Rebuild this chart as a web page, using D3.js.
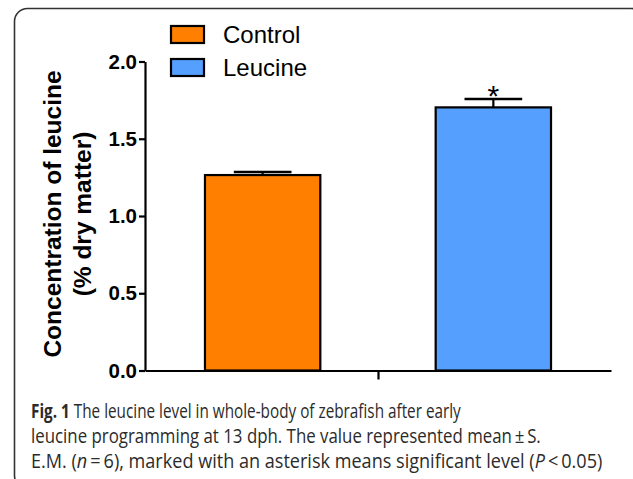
<!DOCTYPE html>
<html lang="en">
	<head>
		<meta charset="utf-8">
		<title>Leucine level in zebrafish</title>
		<script src="https://d3js.org/d3.v7.min.js"></script>
		<style type="text/css">
			body { margin: 0; background: #fff; }
		</style>
	</head>
	<body>
		<script type="text/javascript">

			//Data
			var groups = ["Control", "Leucine"];
			var means = [1.265, 1.703];
			var sems = [0.02, 0.054];
			var signif = ["", "*"];
			var colors = ["#FF8000", "#559FFF"];
			var yTicks = [0, 0.5, 1.0, 1.5, 2.0];
			var yTitle = ["Concentration of leucine", "(% dry matter)"];
			var caption = [
				[["Fig. 1", true], [" The leucine level in whole-body of zebrafish after early", false]],
				[["leucine programming at 13 dph. The value represented mean\u2009\u00b1\u2009S.", false]],
				[["E.M. (", false], ["n", "i"], ["\u2009=\u20096), marked with an asterisk means significant level (", false], ["P", "i"], ["\u2009<\u20090.05)", false]]
			];

			//Width and height
			var w = 633;
			var h = 479;

			var svg = d3.select("body")
						.append("svg")
						.attr("width", w)
						.attr("height", h);

			//Rounded frame
			svg.append("rect")
				.attr("x", 14.5)
				.attr("y", 8.5)
				.attr("width", 630)
				.attr("height", 480)
				.attr("rx", 13)
				.attr("fill", "none")
				.attr("stroke", "#333")
				.attr("stroke-width", 1.6);

			//Scales
			var y = d3.scaleLinear().domain([0, 2]).range([370.5, 61.5]);
			var x = d3.scaleBand().domain(groups).range([145, 611])
						.paddingInner(0.5).paddingOuter(0.26);
			var xMid = d3.scaleLinear().domain([0, 1]).range([145, 611]);

			//Bars
			svg.selectAll("rect.bar")
				.data(groups)
				.enter()
				.append("rect")
				.attr("class", "bar")
				.attr("x", function(d) { return x(d); })
				.attr("y", function(d, i) { return y(means[i]); })
				.attr("width", x.bandwidth())
				.attr("height", function(d, i) { return y(0) - y(means[i]); })
				.attr("fill", function(d, i) { return colors[i]; })
				.attr("stroke", "#000")
				.attr("stroke-width", 2.2);

			//Error bars (upper only)
			var eb = svg.selectAll("g.err")
				.data(groups)
				.enter()
				.append("g")
				.attr("class", "err");
			eb.append("line")
				.attr("x1", function(d) { return x(d) + x.bandwidth() / 2; })
				.attr("x2", function(d) { return x(d) + x.bandwidth() / 2; })
				.attr("y1", function(d, i) { return y(means[i]); })
				.attr("y2", function(d, i) { return y(means[i] + sems[i]); })
				.attr("stroke", "#000")
				.attr("stroke-width", 2.2);
			eb.append("line")
				.attr("x1", function(d) { return x(d) + x.bandwidth() / 4; })
				.attr("x2", function(d) { return x(d) + x.bandwidth() * 3 / 4; })
				.attr("y1", function(d, i) { return y(means[i] + sems[i]); })
				.attr("y2", function(d, i) { return y(means[i] + sems[i]); })
				.attr("stroke", "#000")
				.attr("stroke-width", 2.6);
			eb.append("text")
				.attr("x", function(d) { return x(d) + x.bandwidth() / 2; })
				.attr("y", function(d, i) { return y(means[i] + sems[i]) + 7; })
				.attr("text-anchor", "middle")
				.attr("font-family", "'Liberation Sans', Arial, sans-serif")
				.attr("font-size", 30)
				.text(function(d, i) { return signif[i]; });

			//Axes
			var yAxis = svg.append("g")
				.attr("transform", "translate(145,0)")
				.call(d3.axisLeft(y).tickValues(yTicks).tickFormat(d3.format(".1f"))
					.tickSize(6).tickSizeOuter(0).tickPadding(2));
			yAxis.selectAll("path, line").attr("stroke", "#000").attr("stroke-width", 2.2);
			yAxis.selectAll("text")
				.attr("font-family", "'Liberation Sans', Arial, sans-serif")
				.attr("font-weight", "bold")
				.attr("font-size", 20.5)
				.attr("fill", "#000");

			var xAxis = svg.append("g")
				.attr("transform", "translate(0," + y(0) + ")")
				.call(d3.axisBottom(xMid).tickValues([0.5]).tickFormat("")
					.tickSize(9).tickSizeOuter(0));
			xAxis.selectAll("path, line").attr("stroke", "#000").attr("stroke-width", 2.2);

			//Y title
			svg.append("text")
				.attr("transform", "translate(61,214) rotate(-90)")
				.attr("text-anchor", "middle")
				.attr("font-family", "'Liberation Sans', Arial, sans-serif")
				.attr("font-weight", "bold")
				.attr("font-size", 24.5)
				.selectAll("tspan")
				.data(yTitle)
				.enter()
				.append("tspan")
				.attr("x", 0)
				.attr("dy", function(d, i) { return i ? 30 : 0; })
				.text(function(d) { return d; });

			//Legend
			var leg = svg.selectAll("g.leg")
				.data(groups)
				.enter()
				.append("g")
				.attr("class", "leg")
				.attr("transform", function(d, i) { return "translate(171," + (26 + i * 33) + ")"; });
			leg.append("rect")
				.attr("width", 33)
				.attr("height", 17)
				.attr("fill", function(d, i) { return colors[i]; })
				.attr("stroke", "#000")
				.attr("stroke-width", 2.2);
			leg.append("text")
				.attr("x", 52)
				.attr("y", 17)
				.attr("font-family", "'Liberation Sans', Arial, sans-serif")
				.attr("font-size", 24)
				.attr("fill", "#000")
				.text(function(d) { return d; });

			//Caption, each line squeezed horizontally to the width it has in the figure
			var capEnds = [461, 541, 603];
			svg.selectAll("text.cap")
				.data(caption)
				.enter()
				.append("text")
				.attr("class", "cap")
				.attr("font-family", "'Open Sans', sans-serif")
				.attr("font-size", 20)
				.attr("fill", "#2b2b2b")
				.each(function(d, i) {
					var t = d3.select(this);
					d.forEach(function(p) {
						t.append("tspan")
							.attr("font-weight", p[1] === true ? "bold" : "normal")
							.attr("font-style", p[1] === "i" ? "italic" : "normal")
							.text(p[0]);
					});
					var sx = (capEnds[i] - 31) / this.getComputedTextLength();
					t.attr("transform", "translate(31," + (418 + i * 25) + ") scale(" + sx + ",1)");
				});
		</script>
	</body>
</html>
